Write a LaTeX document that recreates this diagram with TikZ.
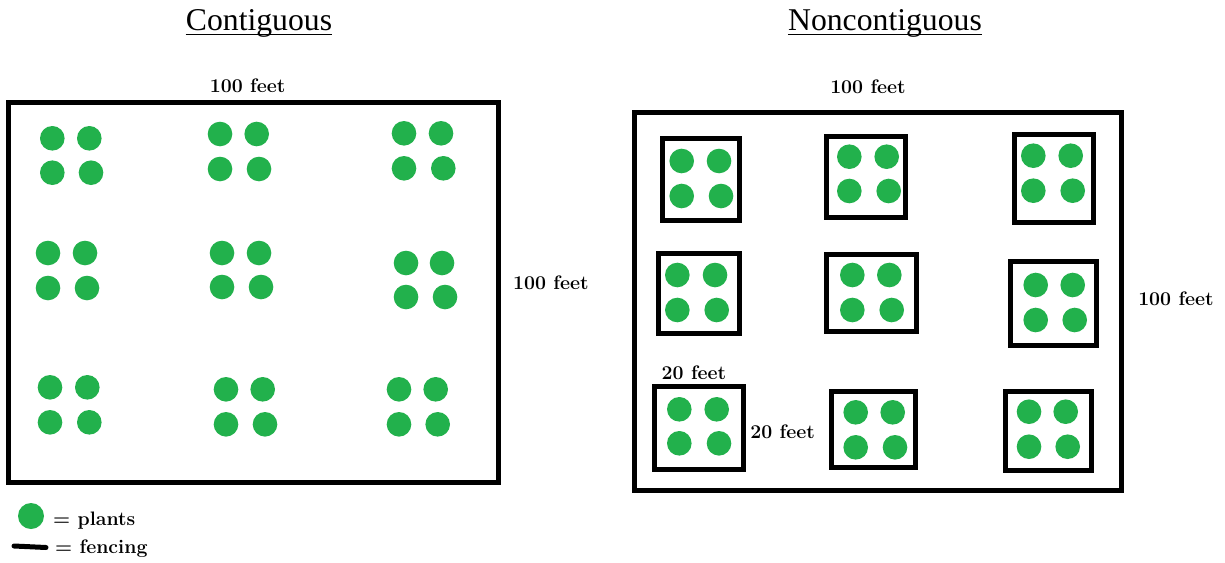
\documentclass[tikz,border=0pt]{standalone}
\usepackage{fontspec}
\newfontfamily\titlefont{Liberation Serif}
\definecolor{plantgreen}{HTML}{22B14C}
\newcommand\plantgroup[6]{%
  \fill[plantgreen] (#1,#3) circle[radius=12.3];
  \fill[plantgreen] (#2,#3) circle[radius=12.3];
  \fill[plantgreen] (#4,#6) circle[radius=12.3];
  \fill[plantgreen] (#5,#6) circle[radius=12.3];
}
\tikzset{
  fence/.style={draw=black,line width=5pt},
  title/.style={anchor=base,inner sep=0pt,font=\titlefont\fontsize{31.7}{38}\selectfont},
  uline/.style={draw=black,line width=1.8pt},
  lbl/.style={anchor=base,inner sep=0pt,font=\fontsize{19.5}{23}\selectfont\bfseries\addfontfeatures{Numbers=OldStyle}},
}
\begin{document}
\begin{tikzpicture}[x=1pt,y=-1pt]
\useasboundingbox[fill=white] (0,0) rectangle (1225,562);
% titles
\node[title] (t1) at (259,30) {Contiguous};
\node[title] (t2) at (885,30) {Noncontiguous};
\coordinate (u1) at (0,34.5);
\draw[uline] (t1.west |- u1) -- (t1.east |- u1);
\draw[uline] (t2.west |- u1) -- (t2.east |- u1);
% big rectangles
\draw[fence] (8.5,102.5) rectangle (498.5,482);
\draw[fence] (634,112) rectangle (1121,490);
% small fences
\draw[fence] (662.5,138) rectangle (739.2,220.2);
\draw[fence] (826.8,136.8) rectangle (905.8,217.5);
\draw[fence] (1014.2,134.2) rectangle (1093.5,222.5);
\draw[fence] (658.2,253.5) rectangle (739.2,333.2);
\draw[fence] (826.5,254.8) rectangle (916.5,331.5);
\draw[fence] (1010.8,261.8) rectangle (1096.8,345.2);
\draw[fence] (654.2,386.5) rectangle (743.2,469.8);
\draw[fence] (831.8,391.5) rectangle (915.8,467.5);
\draw[fence] (1005.8,391.5) rectangle (1091.5,470.2);
% plants left
\plantgroup{52.3}{89.3}{138.3}{52.3}{91}{172.7}
\plantgroup{220}{256.7}{134}{220}{259}{169}
\plantgroup{404}{441}{133.3}{404}{443.3}{168.3}
\plantgroup{48}{85}{253}{48}{87}{288}
\plantgroup{222}{259}{253}{222}{261}{287}
\plantgroup{406}{442}{263}{406}{445}{297}
\plantgroup{50}{87.3}{387.3}{50}{89.3}{422.3}
\plantgroup{226}{262.7}{389.3}{226}{265}{424.3}
\plantgroup{399}{435.7}{389.3}{399}{437.7}{424.3}
% plants right
\plantgroup{681.7}{719}{161}{681.7}{721}{196}
\plantgroup{849.3}{886.7}{156.7}{849.3}{888.7}{191}
\plantgroup{1033.3}{1070.7}{155.7}{1033.3}{1072.7}{190.7}
\plantgroup{677.3}{715}{275}{677.3}{716.7}{310}
\plantgroup{852.3}{889.3}{275}{852.3}{891.7}{310}
\plantgroup{1035.7}{1072.7}{285}{1035.7}{1074.7}{320}
\plantgroup{679.3}{716.7}{409.3}{679.3}{719}{443.3}
\plantgroup{855.7}{892.7}{412.3}{855.7}{895}{447.3}
\plantgroup{1029}{1065.7}{411.7}{1029}{1067.7}{446.7}
% labels
\node[lbl] (l1) at (247.7,92) {100 feet};
\node[lbl] (l2) at (550.8,289) {100 feet};
\node[lbl] (l3) at (868,93) {100 feet};
\node[lbl] (l4) at (1176,305) {100 feet};
\node[lbl] (l5) at (694,379) {20 feet};
\node[lbl] (l6) at (782.7,438.3) {20 feet};
% legend
\fill[plantgreen] (31,516) circle[radius=13];
\node[lbl,anchor=base west] (lg1) at (53,525) {= plants};
\draw[black,line width=5pt,line cap=round] (14,546) -- (46,547.5);
\node[lbl,anchor=base west] (lg2) at (55,553) {= fencing};
\end{tikzpicture}
\end{document}
